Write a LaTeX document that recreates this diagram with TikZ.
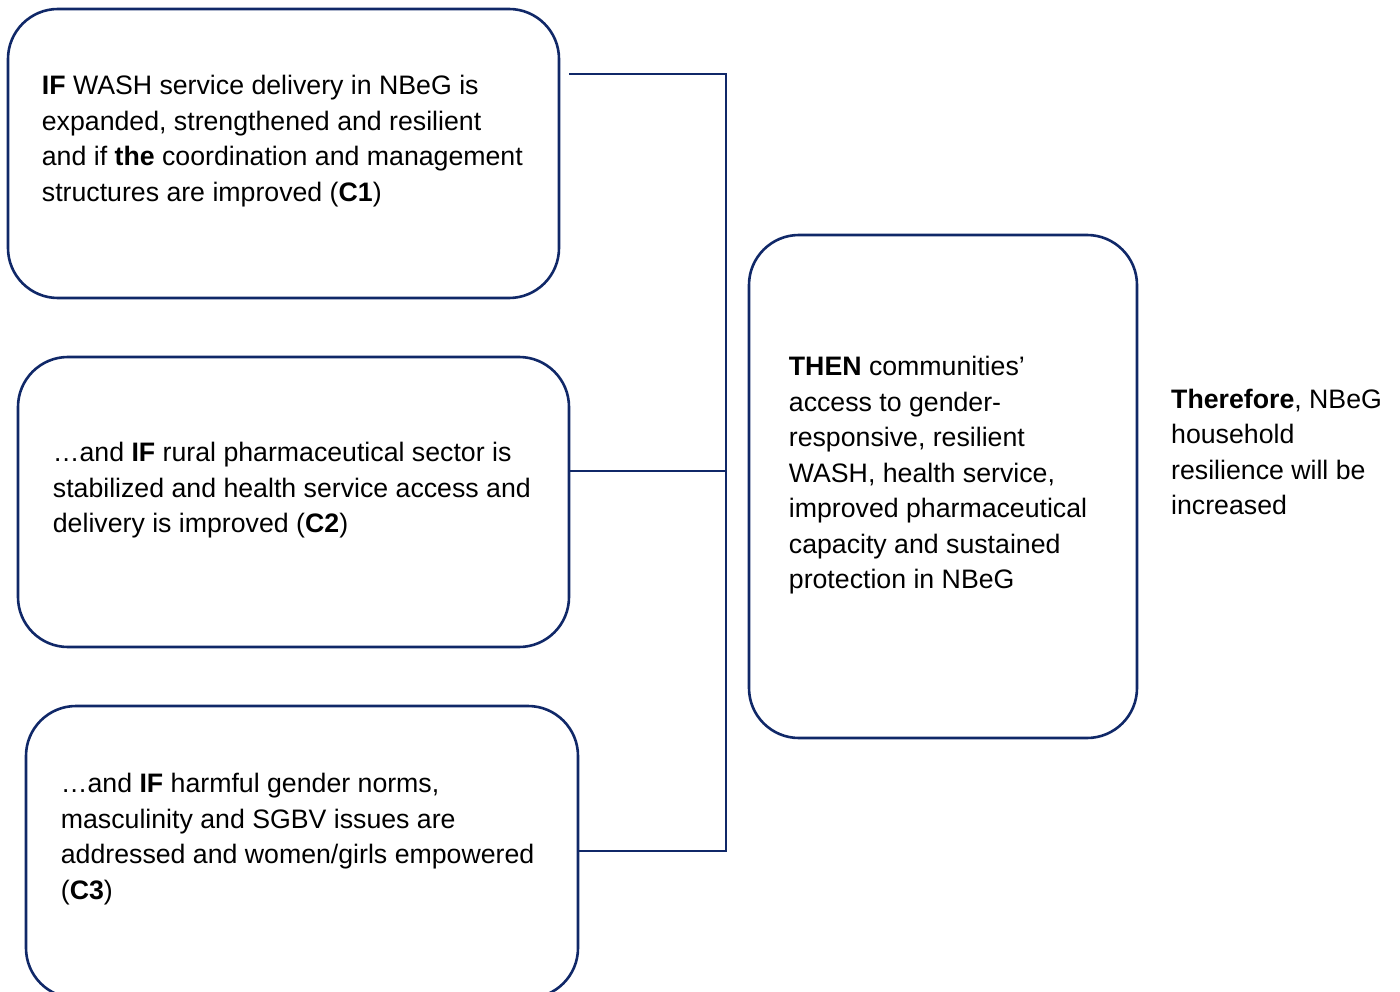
\documentclass[tikz,border=0pt]{standalone}
\usepackage{fontspec}
\setmainfont{Liberation Sans}
\definecolor{navy}{RGB}{16,40,104}

\begin{document}
\begin{tikzpicture}[x=1pt, y=-1pt,
    cbox/.style={draw=navy, line width=2.6pt, rounded corners=50pt, inner sep=0pt},
    txt/.style={anchor=north west, inner sep=0pt, align=left,
      font=\fontsize{26.7}{35.5}\selectfont},
    link/.style={draw=navy, line width=2pt}]
    \useasboundingbox (0,0) rectangle (1400,992);
      % condition boxes
      \node[cbox, minimum width=551pt, minimum height=289pt] (c1) at (283.5,153.5) {};
      \node[cbox, minimum width=551pt, minimum height=290pt] (c2) at (293.5,502) {};
      \node[cbox, minimum width=552pt, minimum height=292pt] (c3) at (302,852) {};
      \node[cbox, minimum width=388pt, minimum height=503pt] (then) at (943,486.5) {};
      \node[txt] (t1) at ([shift={(35,62)}]c1.north west)
        {\strut\textbf{IF} WASH service delivery in NBeG is\\
         expanded, strengthened and resilient\\
         and if \textbf{the} coordination and management\\
         structures are improved (\textbf{C1})};
      \node[txt] (t2) at ([shift={(36,81)}]c2.north west)
        {\strut…and \textbf{IF} rural pharmaceutical sector is\\
         stabilized and health service access and\\
         delivery is improved (\textbf{C2})};
      \node[txt] (t3) at ([shift={(36,63)}]c3.north west)
        {\strut…and \textbf{IF} harmful gender norms,\\
         masculinity and SGBV issues are\\
         addressed and women/girls empowered\\
         (\textbf{C3})};
      \node[txt] (t4) at ([shift={(41,117)}]then.north west)
        {\strut\textbf{THEN} communities’\\
         access to gender-\\
         responsive, resilient\\
         WASH, health service,\\
         improved pharmaceutical\\
         capacity and sustained\\
         protection in NBeG};
      \node[txt] (t5) at (1171,383)
        {\strut\textbf{Therefore}, NBeG\\
         household\\
         resilience will be\\
         increased};
      % joining lines
      \coordinate (j1) at (726,74);
      \coordinate (j2) at (726,471);
      \coordinate (j3) at (726,851);
      \draw[link] ([xshift=9pt]c1.east |- j1) -- (j1) -- (j3) -- (c3.east |- j3);
      \draw[link] (c2.east |- j2) -- (j2);
    \end{tikzpicture}
\end{document}
